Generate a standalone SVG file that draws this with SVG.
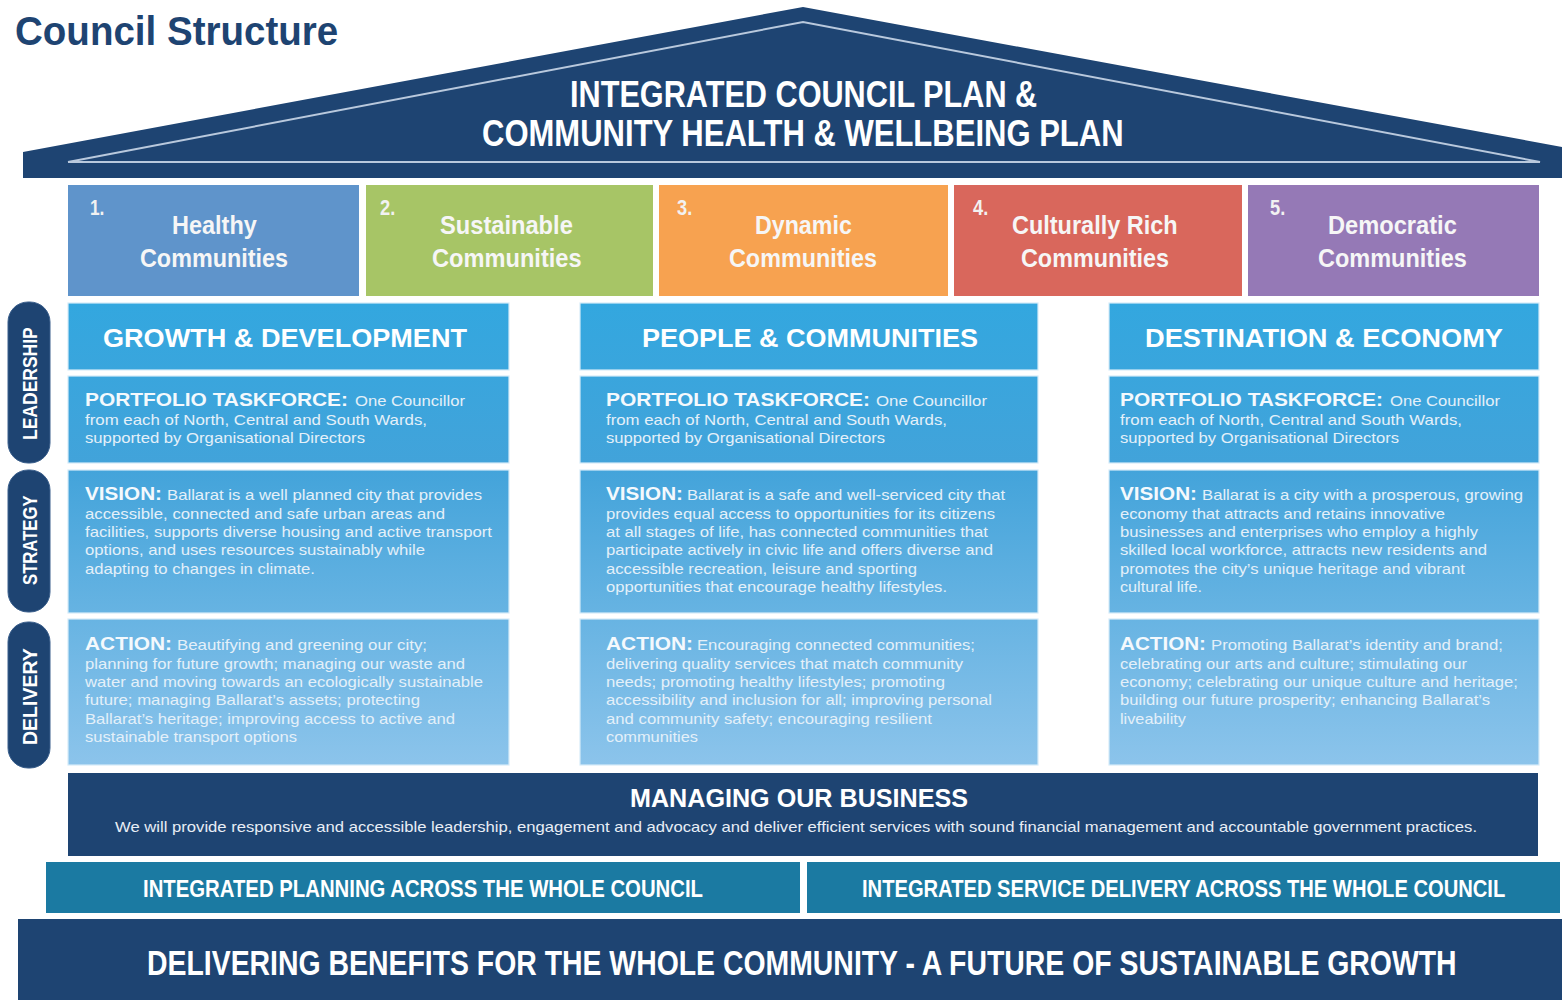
<svg xmlns="http://www.w3.org/2000/svg" width="1562" height="1000" viewBox="0 0 1562 1000">
  <defs>
    <linearGradient id="colFill" gradientUnits="userSpaceOnUse" x1="0" y1="303" x2="0" y2="766">
      <stop offset="0" stop-color="#33a7df"/>
      <stop offset="0.35" stop-color="#42a3da"/>
      <stop offset="1" stop-color="#8cc4eb"/>
    </linearGradient>
    <style>
      .navy { fill: #1e4472; }
      .teal { fill: #1b7aa2; }
      .cell { fill: url(#colFill); stroke: #d6ebf8; stroke-width: 1.2; }
      .pill { fill: #1e4472; stroke: #3a5f8c; stroke-width: 1; }
      .cond { font-family: "Liberation Sans", Arial, sans-serif; font-weight: bold; fill: #ffffff; }
      .head { font-family: "Liberation Sans", Arial, sans-serif; font-weight: bold; font-size: 25px; fill: #ffffff; }
      .lbl { font-family: "Liberation Sans", Arial, sans-serif; font-weight: bold; font-size: 18.5px; fill: #f4f9fd; }
      .body { font-family: "Liberation Sans", Arial, sans-serif; font-size: 15px; fill: #e4f0f9; }
      .pillar { font-size: 25px; fill: #f6f6f6; }
      .num { font-size: 22px; fill: #f2f2f2; }
    </style>
  </defs>

  <rect width="1562" height="1000" fill="#ffffff"/>

  <!-- heading (condensed bold: horizontally squeezed sans) -->
  <text id="title" class="cond" transform="translate(15,45) scale(0.8,1)" font-size="40" textLength="404" lengthAdjust="spacingAndGlyphs" style="fill:#1e4472">Council Structure</text>

  <!-- roof -->
  <g id="roof">
    <polygon class="navy" points="23,152 803,7 1562,147 1562,178 23,178"/>
    <polyline points="68,162 803,22 1540,162 68,162" fill="none" stroke="#b9c9dd" stroke-width="2"/>
    <text class="cond" transform="translate(570,107) scale(0.8,1)" font-size="37" textLength="584" lengthAdjust="spacingAndGlyphs">INTEGRATED COUNCIL PLAN &amp;</text>
    <text class="cond" transform="translate(482,146) scale(0.8,1)" font-size="37" textLength="802" lengthAdjust="spacingAndGlyphs">COMMUNITY HEALTH &amp; WELLBEING PLAN</text>
  </g>

  <!-- five community outcomes -->
  <g id="outcome-1">
    <rect x="68" y="185" width="291" height="111" fill="#5f94cb"/>
    <text class="cond num" transform="translate(90,215) scale(0.8,1)" textLength="18" lengthAdjust="spacingAndGlyphs">1.</text>
    <text class="cond pillar" transform="translate(172,234) scale(0.8,1)" textLength="106" lengthAdjust="spacingAndGlyphs">Healthy</text>
    <text class="cond pillar" transform="translate(140,267) scale(0.8,1)" textLength="185" lengthAdjust="spacingAndGlyphs">Communities</text>
  </g>
  <g id="outcome-2">
    <rect x="366" y="185" width="287" height="111" fill="#a7c566"/>
    <text class="cond num" transform="translate(380,215) scale(0.8,1)" textLength="19" lengthAdjust="spacingAndGlyphs">2.</text>
    <text class="cond pillar" transform="translate(440,234) scale(0.8,1)" textLength="166" lengthAdjust="spacingAndGlyphs">Sustainable</text>
    <text class="cond pillar" transform="translate(432,267) scale(0.8,1)" textLength="187" lengthAdjust="spacingAndGlyphs">Communities</text>
  </g>
  <g id="outcome-3">
    <rect x="659" y="185" width="289" height="111" fill="#f7a250"/>
    <text class="cond num" transform="translate(677,215) scale(0.8,1)" textLength="19" lengthAdjust="spacingAndGlyphs">3.</text>
    <text class="cond pillar" transform="translate(755,234) scale(0.8,1)" textLength="121" lengthAdjust="spacingAndGlyphs">Dynamic</text>
    <text class="cond pillar" transform="translate(729,267) scale(0.8,1)" textLength="185" lengthAdjust="spacingAndGlyphs">Communities</text>
  </g>
  <g id="outcome-4">
    <rect x="954" y="185" width="288" height="111" fill="#d9675c"/>
    <text class="cond num" transform="translate(973,215) scale(0.8,1)" textLength="19" lengthAdjust="spacingAndGlyphs">4.</text>
    <text class="cond pillar" transform="translate(1012,234) scale(0.8,1)" textLength="207" lengthAdjust="spacingAndGlyphs">Culturally Rich</text>
    <text class="cond pillar" transform="translate(1021,267) scale(0.8,1)" textLength="185" lengthAdjust="spacingAndGlyphs">Communities</text>
  </g>
  <g id="outcome-5">
    <rect x="1248" y="185" width="291" height="111" fill="#9579b6"/>
    <text class="cond num" transform="translate(1270,215) scale(0.8,1)" textLength="19" lengthAdjust="spacingAndGlyphs">5.</text>
    <text class="cond pillar" transform="translate(1328,234) scale(0.8,1)" textLength="161" lengthAdjust="spacingAndGlyphs">Democratic</text>
    <text class="cond pillar" transform="translate(1318,267) scale(0.8,1)" textLength="186" lengthAdjust="spacingAndGlyphs">Communities</text>
  </g>

  <!-- side tabs -->
  <g id="tab-leadership">
    <rect class="pill" x="8" y="302" width="42" height="161" rx="20"/>
    <text class="cond" transform="translate(37,440) rotate(-90) scale(0.8,1)" font-size="21" textLength="141" lengthAdjust="spacingAndGlyphs">LEADERSHIP</text>
  </g>
  <g id="tab-strategy">
    <rect class="pill" x="8" y="470" width="42" height="142" rx="20"/>
    <text class="cond" transform="translate(37,585) rotate(-90) scale(0.8,1)" font-size="21" textLength="112" lengthAdjust="spacingAndGlyphs">STRATEGY</text>
  </g>
  <g id="tab-delivery">
    <rect class="pill" x="8" y="622" width="42" height="146" rx="20"/>
    <text class="cond" transform="translate(37,745) rotate(-90) scale(0.8,1)" font-size="21" textLength="121" lengthAdjust="spacingAndGlyphs">DELIVERY</text>
  </g>

  <!-- column 1 -->
  <g id="growth-development">
    <rect class="cell" x="68" y="303" width="441" height="67"/>
    <rect class="cell" x="68" y="376" width="441" height="87"/>
    <rect class="cell" x="68" y="470" width="441" height="143"/>
    <rect class="cell" x="68" y="619" width="441" height="146"/>
    <text class="head" x="103" y="347" textLength="364" lengthAdjust="spacingAndGlyphs">GROWTH &amp; DEVELOPMENT</text>

    <text class="lbl" x="85" y="406" textLength="263" lengthAdjust="spacingAndGlyphs">PORTFOLIO TASKFORCE:</text>
    <text class="body" x="355" y="406" textLength="110" lengthAdjust="spacingAndGlyphs">One Councillor</text>
    <text class="body" x="85" y="425" textLength="342" lengthAdjust="spacingAndGlyphs">from each of North, Central and South Wards,</text>
    <text class="body" x="85" y="443" textLength="280" lengthAdjust="spacingAndGlyphs">supported by Organisational Directors</text>

    <text class="lbl" x="85" y="500" textLength="77" lengthAdjust="spacingAndGlyphs">VISION:</text>
    <text class="body" x="167" y="500" textLength="315" lengthAdjust="spacingAndGlyphs">Ballarat is a well planned city that provides</text>
    <text class="body" x="85" y="518.5" textLength="360" lengthAdjust="spacingAndGlyphs">accessible, connected and safe urban areas and</text>
    <text class="body" x="85" y="537" textLength="407" lengthAdjust="spacingAndGlyphs">facilities, supports diverse housing and active transport</text>
    <text class="body" x="85" y="555" textLength="340" lengthAdjust="spacingAndGlyphs">options, and uses resources sustainably while</text>
    <text class="body" x="85" y="573.5" textLength="230" lengthAdjust="spacingAndGlyphs">adapting to changes in climate.</text>

    <text class="lbl" x="85" y="650" textLength="87" lengthAdjust="spacingAndGlyphs">ACTION:</text>
    <text class="body" x="177" y="650" textLength="250" lengthAdjust="spacingAndGlyphs">Beautifying and greening our city;</text>
    <text class="body" x="85" y="668.5" textLength="380" lengthAdjust="spacingAndGlyphs">planning for future growth; managing our waste and</text>
    <text class="body" x="85" y="687" textLength="398" lengthAdjust="spacingAndGlyphs">water and moving towards an ecologically sustainable</text>
    <text class="body" x="85" y="705" textLength="335" lengthAdjust="spacingAndGlyphs">future; managing Ballarat’s assets; protecting</text>
    <text class="body" x="85" y="723.5" textLength="370" lengthAdjust="spacingAndGlyphs">Ballarat’s heritage; improving access to active and</text>
    <text class="body" x="85" y="742" textLength="212" lengthAdjust="spacingAndGlyphs">sustainable transport options</text>
  </g>

  <!-- column 2 -->
  <g id="people-communities">
    <rect class="cell" x="580" y="303" width="458" height="67"/>
    <rect class="cell" x="580" y="376" width="458" height="87"/>
    <rect class="cell" x="580" y="470" width="458" height="143"/>
    <rect class="cell" x="580" y="619" width="458" height="146"/>
    <text class="head" x="642" y="347" textLength="336" lengthAdjust="spacingAndGlyphs">PEOPLE &amp; COMMUNITIES</text>

    <text class="lbl" x="606" y="406" textLength="264" lengthAdjust="spacingAndGlyphs">PORTFOLIO TASKFORCE:</text>
    <text class="body" x="876" y="406" textLength="111" lengthAdjust="spacingAndGlyphs">One Councillor</text>
    <text class="body" x="606" y="425" textLength="341" lengthAdjust="spacingAndGlyphs">from each of North, Central and South Wards,</text>
    <text class="body" x="606" y="443" textLength="279" lengthAdjust="spacingAndGlyphs">supported by Organisational Directors</text>

    <text class="lbl" x="606" y="500" textLength="77" lengthAdjust="spacingAndGlyphs">VISION:</text>
    <text class="body" x="687" y="500" textLength="318" lengthAdjust="spacingAndGlyphs">Ballarat is a safe and well-serviced city that</text>
    <text class="body" x="606" y="518.5" textLength="389" lengthAdjust="spacingAndGlyphs">provides equal access to opportunities for its citizens</text>
    <text class="body" x="606" y="537" textLength="382" lengthAdjust="spacingAndGlyphs">at all stages of life, has connected communities that</text>
    <text class="body" x="606" y="555" textLength="387" lengthAdjust="spacingAndGlyphs">participate actively in civic life and offers diverse and</text>
    <text class="body" x="606" y="573.5" textLength="311" lengthAdjust="spacingAndGlyphs">accessible recreation, leisure and sporting</text>
    <text class="body" x="606" y="592" textLength="341" lengthAdjust="spacingAndGlyphs">opportunities that encourage healthy lifestyles.</text>

    <text class="lbl" x="606" y="650" textLength="87" lengthAdjust="spacingAndGlyphs">ACTION:</text>
    <text class="body" x="697" y="650" textLength="278" lengthAdjust="spacingAndGlyphs">Encouraging connected communities;</text>
    <text class="body" x="606" y="668.5" textLength="357" lengthAdjust="spacingAndGlyphs">delivering quality services that match community</text>
    <text class="body" x="606" y="687" textLength="339" lengthAdjust="spacingAndGlyphs">needs; promoting healthy lifestyles; promoting</text>
    <text class="body" x="606" y="705" textLength="386" lengthAdjust="spacingAndGlyphs">accessibility and inclusion for all; improving personal</text>
    <text class="body" x="606" y="723.5" textLength="326" lengthAdjust="spacingAndGlyphs">and community safety; encouraging resilient</text>
    <text class="body" x="606" y="742" textLength="92" lengthAdjust="spacingAndGlyphs">communities</text>
  </g>

  <!-- column 3 -->
  <g id="destination-economy">
    <rect class="cell" x="1109" y="303" width="430" height="67"/>
    <rect class="cell" x="1109" y="376" width="430" height="87"/>
    <rect class="cell" x="1109" y="470" width="430" height="143"/>
    <rect class="cell" x="1109" y="619" width="430" height="146"/>
    <text class="head" x="1145" y="347" textLength="358" lengthAdjust="spacingAndGlyphs">DESTINATION &amp; ECONOMY</text>

    <text class="lbl" x="1120" y="406" textLength="263" lengthAdjust="spacingAndGlyphs">PORTFOLIO TASKFORCE:</text>
    <text class="body" x="1390" y="406" textLength="110" lengthAdjust="spacingAndGlyphs">One Councillor</text>
    <text class="body" x="1120" y="425" textLength="342" lengthAdjust="spacingAndGlyphs">from each of North, Central and South Wards,</text>
    <text class="body" x="1120" y="443" textLength="279" lengthAdjust="spacingAndGlyphs">supported by Organisational Directors</text>

    <text class="lbl" x="1120" y="500" textLength="77" lengthAdjust="spacingAndGlyphs">VISION:</text>
    <text class="body" x="1202" y="500" textLength="321" lengthAdjust="spacingAndGlyphs">Ballarat is a city with a prosperous, growing</text>
    <text class="body" x="1120" y="518.5" textLength="325" lengthAdjust="spacingAndGlyphs">economy that attracts and retains innovative</text>
    <text class="body" x="1120" y="537" textLength="358" lengthAdjust="spacingAndGlyphs">businesses and enterprises who employ a highly</text>
    <text class="body" x="1120" y="555" textLength="367" lengthAdjust="spacingAndGlyphs">skilled local workforce, attracts new residents and</text>
    <text class="body" x="1120" y="573.5" textLength="345" lengthAdjust="spacingAndGlyphs">promotes the city’s unique heritage and vibrant</text>
    <text class="body" x="1120" y="592" textLength="82" lengthAdjust="spacingAndGlyphs">cultural life.</text>

    <text class="lbl" x="1120" y="650" textLength="86" lengthAdjust="spacingAndGlyphs">ACTION:</text>
    <text class="body" x="1211" y="650" textLength="292" lengthAdjust="spacingAndGlyphs">Promoting Ballarat’s identity and brand;</text>
    <text class="body" x="1120" y="668.5" textLength="347" lengthAdjust="spacingAndGlyphs">celebrating our arts and culture; stimulating our</text>
    <text class="body" x="1120" y="687" textLength="398" lengthAdjust="spacingAndGlyphs">economy; celebrating our unique culture and heritage;</text>
    <text class="body" x="1120" y="705" textLength="370" lengthAdjust="spacingAndGlyphs">building our future prosperity; enhancing Ballarat’s</text>
    <text class="body" x="1120" y="723.5" textLength="66" lengthAdjust="spacingAndGlyphs">liveability</text>
  </g>

  <!-- foundation bands -->
  <g id="managing-business">
    <rect class="navy" x="68" y="773" width="1470" height="83"/>
    <text class="head" x="630" y="807" font-size="22" textLength="338" lengthAdjust="spacingAndGlyphs">MANAGING OUR BUSINESS</text>
    <text class="body" x="115" y="832" font-size="13.5" textLength="1362" lengthAdjust="spacingAndGlyphs" style="fill:#e8eef6">We will provide responsive and accessible leadership, engagement and advocacy and deliver efficient services with sound financial management and accountable government practices.</text>
  </g>
  <g id="integrated-planning">
    <rect class="teal" x="46" y="862" width="754" height="51"/>
    <text class="cond" transform="translate(143,897) scale(0.8,1)" font-size="24" textLength="700" lengthAdjust="spacingAndGlyphs">INTEGRATED PLANNING ACROSS THE WHOLE COUNCIL</text>
  </g>
  <g id="integrated-service">
    <rect class="teal" x="807" y="862" width="753" height="51"/>
    <text class="cond" transform="translate(862,897) scale(0.8,1)" font-size="24" textLength="804" lengthAdjust="spacingAndGlyphs">INTEGRATED SERVICE DELIVERY ACROSS THE WHOLE COUNCIL</text>
  </g>
  <g id="delivering-benefits">
    <rect class="navy" x="18" y="919" width="1544" height="81"/>
    <text class="cond" transform="translate(147,975) scale(0.8,1)" font-size="35" textLength="1637" lengthAdjust="spacingAndGlyphs">DELIVERING BENEFITS FOR THE WHOLE COMMUNITY - A FUTURE OF SUSTAINABLE GROWTH</text>
  </g>

  <g id="connectors"/>
</svg>
